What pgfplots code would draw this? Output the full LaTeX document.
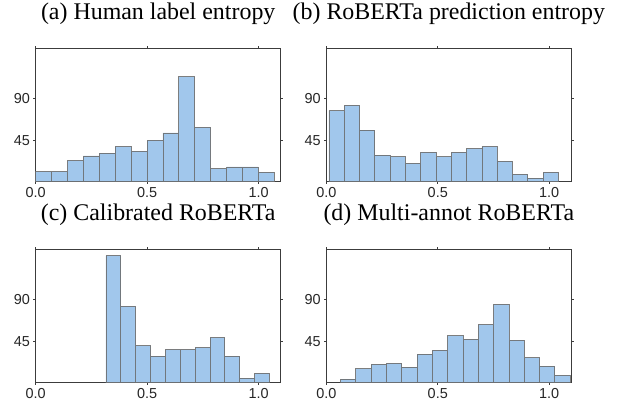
\documentclass[border=0pt]{standalone}
\usepackage{fontspec}
\setmainfont{Liberation Serif}
\newfontfamily\sansf{Liberation Sans}
\usepackage{pgfplots}
\pgfplotsset{compat=1.18}
\definecolor{barfill}{RGB}{161,199,236}
\definecolor{baredge}{RGB}{105,105,105}
\definecolor{frame}{RGB}{60,60,60}
\pgfplotsset{
  hist/.style={
    scale only axis, width=245bp, height=133.4bp,
    xmin=0, xmax=1.099, ymin=0, ymax=145,
    xtick={0,0.5,1}, ytick={45,90},
    xticklabel style={/pgf/number format/.cd, fixed, fixed zerofill, precision=1},
    /pgf/number format/assume math mode=true,
    tick label style={font=\sansf\fontsize{14.5}{16}\selectfont, text=black!85},
    tick align=outside, major tick length=2.2bp,
    axis line style={draw=frame, line width=0.8bp},
    every tick/.style={draw=frame, line width=0.8bp},
    title style={at={(0.5,1)}, anchor=base, yshift=22.8bp, font=\fontsize{24}{28}\selectfont},
    clip=false,
  },
  bars/.style={ybar interval, fill=barfill, draw=baredge, draw opacity=0.85, line width=0.8bp},
}
\begin{document}
\begin{tikzpicture}
\path[use as bounding box] (0,0) rectangle (622bp,403bp);
% (a)
\begin{axis}[hist, at={(35.7bp,221.3bp)}, anchor=south west, title={(a) Human label entropy}]
\addplot[bars] coordinates {
(0.0000,11) (0.0713,11) (0.1427,23) (0.2140,28) (0.2853,31) (0.3567,38) (0.4280,33)
(0.4993,45) (0.5707,53) (0.6420,114) (0.7133,59) (0.7847,14) (0.8560,16) (0.9273,16)
(0.9987,10) (1.0700,10)};
\end{axis}
% (b)
\begin{axis}[hist, at={(326.3bp,221.3bp)}, anchor=south west, title={(b) RoBERTa prediction entropy}]
\addplot[bars] coordinates {
(0.0120,77) (0.0806,83) (0.1492,56) (0.2178,29) (0.2864,27) (0.3550,20) (0.4236,32)
(0.4922,27) (0.5608,32) (0.6294,36) (0.6980,38) (0.7666,22) (0.8352,8) (0.9038,4)
(0.9724,10) (1.0410,10)};
\end{axis}
% (c)
\begin{axis}[hist, at={(35.7bp,20.3bp)}, anchor=south west, title={(c) Calibrated RoBERTa}]
\addplot[bars] coordinates {
(0.3150,138) (0.3817,83) (0.4484,40) (0.5151,29) (0.5818,36) (0.6485,36) (0.7152,38)
(0.7819,49) (0.8486,29) (0.9153,5) (0.9820,10) (1.0487,10)};
\end{axis}
% (d)
\begin{axis}[hist, at={(326.3bp,20.3bp)}, anchor=south west, title={(d) Multi-annot RoBERTa}]
\addplot[bars] coordinates {
(0.0640,4) (0.1327,15) (0.2013,20) (0.2700,21) (0.3387,17) (0.4073,31) (0.4760,35)
(0.5447,51) (0.6133,47) (0.6820,63) (0.7507,85) (0.8193,46) (0.8880,27) (0.9567,18)
(1.0253,8) (1.0940,8)};
\end{axis}
\end{tikzpicture}
\end{document}
